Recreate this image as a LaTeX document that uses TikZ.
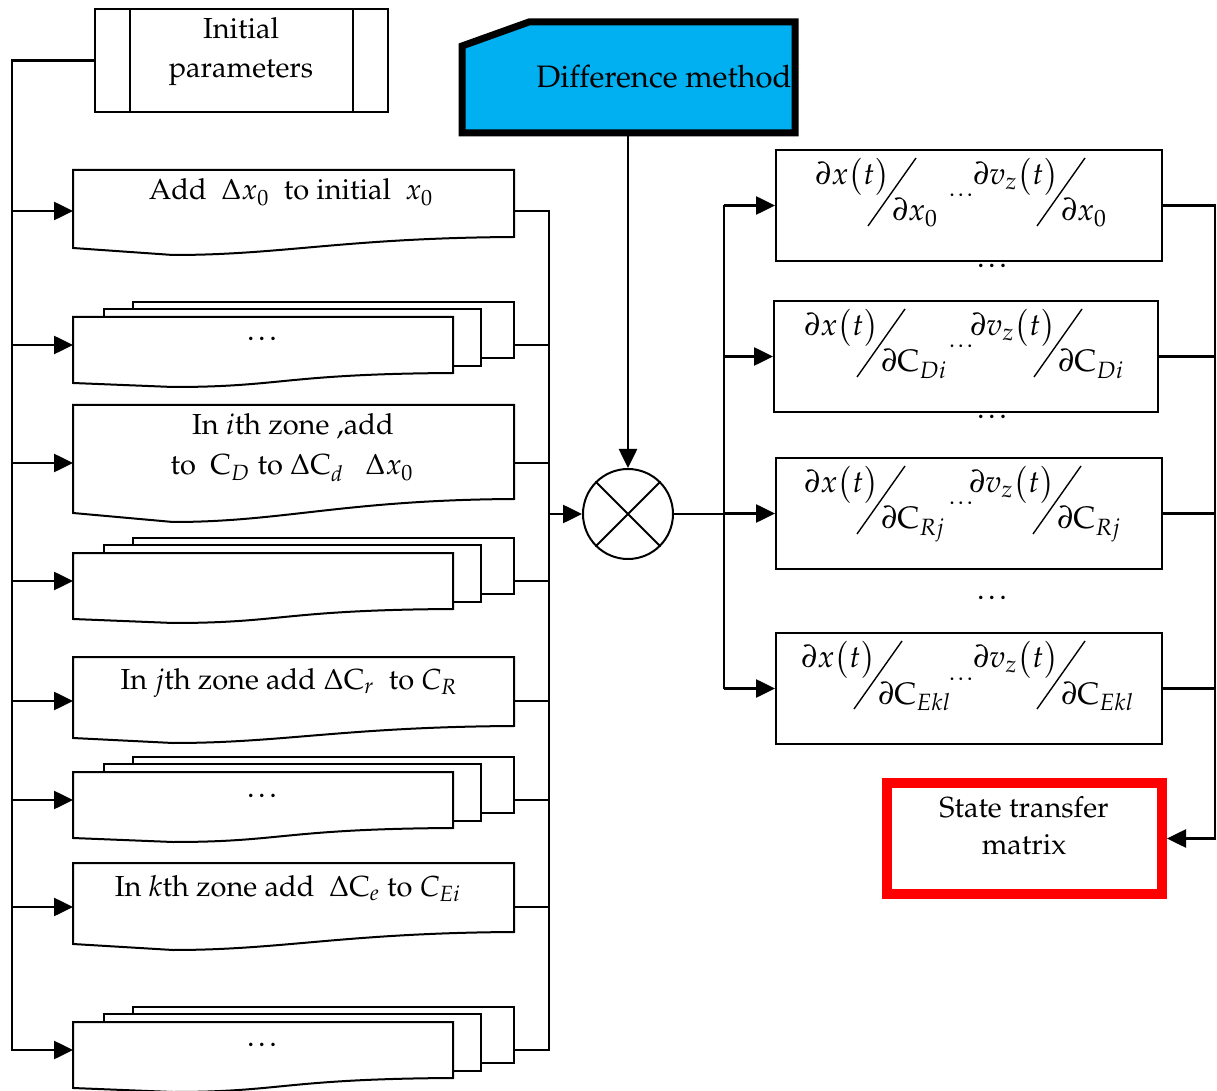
\documentclass[tikz,border=0pt]{standalone}
\usepackage[T1]{fontenc}
\usepackage{mathpazo}
\usetikzlibrary{arrows.meta,shapes.geometric}
\definecolor{dmblue}{HTML}{00B0F0}
\definecolor{stred}{HTML}{FF0000}
% document shape with wavy bottom: x1, top, x2, y right bottom, y left bottom, y lowest
\newcommand\wdoc[6]{\draw[box,fill=white] (#1,#2) -- (#3,#2) -- (#3,#4) .. controls (#3-170,#4+1) and (#1+210,#6) .. (#1+100,#6) -- (#1,#5) -- cycle;}
\newcommand\stackdoc[1]{%
  \draw[box,fill=white] (133,#1-15) rectangle (514,#1+41);
  \draw[box,fill=white] (104,#1-8) rectangle (481,#1+49);
  \wdoc{73}{#1}{453}{#1+56}{#1+66}{#1+70}}
\newcommand\tdots{.\kern0.12em.\kern0.12em.}
% partial derivative row: name, top, slash1 x, slash2 x, denominator
\newcommand\pdrow[5]{%
  \node[mathlbl,anchor=base east] (#1a) at (#3+22,#2+35) {$\partial x\bigl(t\bigr)$};
  \draw[slashln] (#3,#2+76) -- (#3+48,#2+8);
  \node[mathlbl,anchor=base west] (#1b) at (#3+24,#2+71) {$#5$};
  \node[smalldots,anchor=base] (#1c) at (961,#2+47) {\tdots};
  \node[mathlbl,anchor=base east] (#1d) at (#4+22,#2+35) {$\partial v_z\bigl(t\bigr)$};
  \draw[slashln] (#4,#2+76) -- (#4+48,#2+8);
  \node[mathlbl,anchor=base west] (#1e) at (#4+24,#2+71) {$#5$};}
\begin{document}
\begin{tikzpicture}[x=0.5pt,y=-0.5pt,
  every node/.style={font=\fontsize{14.5}{19.5}\selectfont, inner sep=0pt},
  box/.style={draw, line width=1pt},
  conn/.style={line width=1.3pt},
  arr/.style={conn,-{Triangle[length=9.5pt,width=9pt]}},
  slashln/.style={line width=0.7pt},
  mathlbl/.style={font=\fontsize{15.5}{18}\selectfont},
  smalldots/.style={font=\fontsize{12}{14}\selectfont},
  midots/.style={font=\fontsize{15}{16}\selectfont},
]
\useasboundingbox (0,0) rectangle (1217,1091);

% Initial parameters
\node[box, minimum width=146.5pt, minimum height=51.5pt] (init) at (241.5,60.5) {};
\draw[line width=1pt] (130,9) -- (130,112) (353,9) -- (353,112);
\node[anchor=base] (inittxt1) at (241,39) {Initial};
\node[anchor=base] (inittxt2) at (241,78) {parameters};

% left documents
\wdoc{73}{170}{514}{237}{248}{255}
\node[anchor=base] (t1) at (291,200) {Add\ \ $\Delta x_0$\ \ to initial\ \ $x_0$};
\stackdoc{317}
\node[midots,anchor=base] (t2) at (262,341) {\tdots};
\wdoc{73}{405}{514}{499}{513}{522}
\node[anchor=base] (t3a) at (293,435) {In $i$th zone ,add};
\node[anchor=base] (t3b) at (292,475) {to\ \ $\mathrm{C}_D$ to $\Delta\mathrm{C}_d$\ \ \ $\Delta x_0$};
\stackdoc{553}
\wdoc{73}{657}{514}{726}{738}{743}
\node[anchor=base] (t5) at (289,689) {In $j$th zone add $\Delta\mathrm{C}_r$\ \ to $C_R$};
\stackdoc{772}
\node[midots,anchor=base] (t6) at (262,797) {\tdots};
\wdoc{73}{863}{514}{932}{944}{950}
\node[anchor=base] (t7) at (288,896) {In $k$th zone add\ \ $\Delta\mathrm{C}_e$ to $C_{Ei}$};
\stackdoc{1022}
\node[midots,anchor=base] (t8) at (262,1046) {\tdots};

\coordinate (in1) at (73,211);  \coordinate (out1) at (514,211);
\coordinate (in2) at (73,345);  \coordinate (out2) at (514,345);
\coordinate (in3) at (73,463);  \coordinate (out3) at (514,463);
\coordinate (in4) at (73,581);  \coordinate (out4) at (514,581);
\coordinate (in5) at (73,701);  \coordinate (out5) at (514,701);
\coordinate (in6) at (73,800);  \coordinate (out6) at (514,800);
\coordinate (in7) at (73,907);  \coordinate (out7) at (514,907);
\coordinate (in8) at (73,1050); \coordinate (out8) at (514,1050);

% left bus
\coordinate (lbus) at (12,0);
\draw[arr] (init.west) -- (lbus |- init.west) -- (lbus |- in8) -- (in8);
\foreach \k in {1,...,7} \draw[arr] (lbus |- in\k) -- (in\k);

% right bus of left column
\coordinate (rbus) at (549,0);
\draw[conn] (out1) -- (rbus |- out1) -- (rbus |- out8) -- (out8);
\foreach \k in {2,...,7} \draw[conn] (out\k) -- (rbus |- out\k);

% Difference method
\draw[line width=3.5pt, fill=dmblue] (462,46) -- (529,22) -- (795,22) -- (795,133) -- (462,133) -- cycle;
\node[anchor=base, font=\fontsize{15.5}{18}\selectfont] (dmtxt) at (664,88) {Difference method};
\coordinate (dmb) at (628,135);

% multiplier
\node[draw, circle, line width=1pt, minimum size=45pt] (mult) at (628,514) {};
\draw[line width=1pt] (mult.north east) -- (mult.south west) (mult.north west) -- (mult.south east);
\draw[arr] (dmb) -- (mult.north);
\draw[arr] (rbus |- mult.west) -- (mult.west);

% right boxes
\node[box, minimum width=193pt, minimum height=55.5pt] (p1) at (969,205.5) {};
\node[box, minimum width=192pt, minimum height=55.5pt] (p2) at (966,356.5) {};
\node[box, minimum width=193pt, minimum height=55.5pt] (p3) at (969,513.5) {};
\node[box, minimum width=193pt, minimum height=55.5pt] (p4) at (969,688.5) {};
\pdrow{f1}{150}{868}{1037}{\partial x_0}
\pdrow{f2}{301}{857}{1034}{\partial \mathrm{C}_{Di}}
\pdrow{f3}{458}{857}{1033}{\partial \mathrm{C}_{Rj}}
\pdrow{f4}{633}{854}{1037}{\partial \mathrm{C}_{Ekl}}
\node[midots,anchor=base] (u1) at (992,268) {\tdots};
\node[midots,anchor=base] (u2) at (992,419) {\tdots};
\node[midots,anchor=base] (u3) at (992,599) {\tdots};

% fork
\coordinate (fork) at (724,0);
\draw[conn] (mult.east) -- (fork |- mult.east);
\draw[conn] (fork |- p1.west) -- (fork |- p4.west);
\foreach \k in {1,...,4} \draw[arr] (fork |- p\k.west) -- (p\k.west);

% state transfer matrix
\node[draw=stred, line width=5pt, minimum width=137.5pt, minimum height=55.5pt] (st) at (1024.5,838.5) {};
\node[anchor=base] (st1) at (1024,817) {State transfer};
\node[anchor=base] (st2) at (1024,854) {matrix};

% output bus
\coordinate (obus) at (1215,0);
\draw[arr] (p1.east) -- (obus |- p1.east) -- (obus |- st.east) -- (st.east);
\foreach \k in {2,...,4} \draw[conn] (p\k.east) -- (obus |- p\k.east);
\end{tikzpicture}
\end{document}
